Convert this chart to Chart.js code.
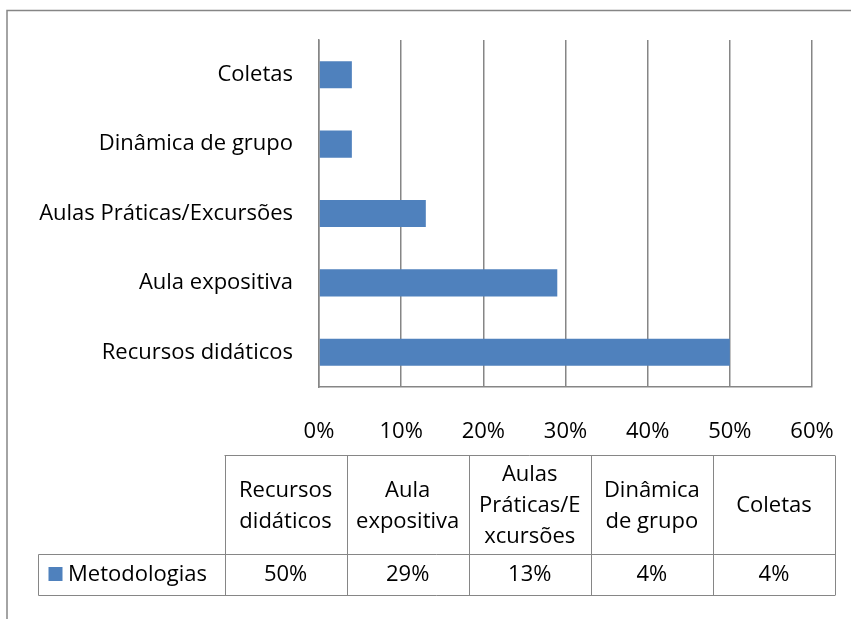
<!DOCTYPE html>
<html>
<head>
<meta charset="utf-8">
<script src="https://cdn.jsdelivr.net/npm/chart.js@4.4.1/dist/chart.umd.min.js"></script>
<style>
  body { margin: 0; background: #fff; }
  canvas { display: block; }
</style>
</head>
<body>
<canvas id="chart" width="851" height="619"></canvas>
<script>
// data
const categories = ['Recursos didáticos', 'Aula expositiva', 'Aulas Práticas/Excursões', 'Dinâmica de grupo', 'Coletas'];
const seriesName = 'Metodologias';
const values = [50, 29, 13, 4, 4];
const xMin = 0, xMax = 60, xStep = 10;

const barColor = '#4F81BD';
const lineColor = '#868686';
const fontFamily = '"Open Sans", sans-serif';
const fontSize = 22;

Chart.defaults.font.family = fontFamily;
Chart.defaults.font.size = fontSize;
Chart.defaults.color = '#000';

// split a label the way the data table wraps it
function wrapText(ctx, text, maxWidth) {
    const words = text.split(' ');
    const lines = [];
    let line = '';
    words.forEach(function (w) {
        const test = line ? line + ' ' + w : w;
        if (ctx.measureText(test).width <= maxWidth) {
            line = test;
            return;
        }
        if (line) lines.push(line);
        line = '';
        let part = '';
        for (const ch of w) {
            if (ctx.measureText(part + ch).width > maxWidth && part) {
                lines.push(part);
                part = ch;
            } else {
                part += ch;
            }
        }
        line = part;
    });
    if (line) lines.push(line);
    return lines;
}

const extras = {
    id: 'extras',
    afterDraw(chart) {
        const ctx = chart.ctx;
        ctx.save();

        // outer frame
        ctx.strokeStyle = lineColor;
        ctx.lineWidth = 1.5;
        ctx.strokeRect(7, 10.5, 900, 700);

        // data table
        const colLeft = 224.5, colW = 122.1;
        const top = 455.5, mid = 554.5, bottom = 595.5, legendLeft = 38.5;
        ctx.lineWidth = 1;
        ctx.strokeStyle = lineColor;
        ctx.beginPath();
        ctx.moveTo(colLeft, top); ctx.lineTo(colLeft + colW * 5, top);
        ctx.moveTo(legendLeft, mid); ctx.lineTo(colLeft + colW * 5, mid);
        ctx.moveTo(legendLeft, bottom); ctx.lineTo(colLeft + colW * 5, bottom);
        ctx.moveTo(legendLeft, mid); ctx.lineTo(legendLeft, bottom);
        for (let i = 0; i <= 5; i++) {
            const x = Math.round(colLeft + colW * i) + 0.5;
            ctx.moveTo(x, top); ctx.lineTo(x, bottom);
        }
        ctx.stroke();

        ctx.font = fontSize + 'px ' + fontFamily;
        ctx.fillStyle = '#000';
        ctx.textAlign = 'center';
        ctx.textBaseline = 'middle';
        const lh = 31;
        categories.forEach(function (c, i) {
            const cx = colLeft + colW * (i + 0.5);
            const lines = wrapText(ctx, c, colW - 10);
            const y0 = (top + mid) / 2 + 1 - (lines.length - 1) * lh / 2;
            lines.forEach(function (l, j) { ctx.fillText(l, cx, y0 + j * lh); });
            ctx.fillText(values[i] + '%', cx, (mid + bottom) / 2);
        });

        // legend key
        ctx.fillStyle = barColor;
        ctx.fillRect(48.5, 567, 14, 14);
        ctx.fillStyle = '#000';
        ctx.textAlign = 'left';
        ctx.fillText(seriesName, 68, (mid + bottom) / 2);

        ctx.restore();
    }
};

new Chart(document.getElementById('chart'), {
    type: 'bar',
    data: {
        labels: categories,
        datasets: [{
            label: seriesName,
            data: values,
            backgroundColor: barColor,
            categoryPercentage: 1,
            barPercentage: 0.39
        }]
    },
    options: {
        indexAxis: 'y',
        responsive: false,
        animation: false,
        layout: { padding: { top: 40, right: 39, bottom: 152, left: 0 } },
        plugins: { legend: { display: false }, tooltip: { enabled: false } },
        scales: {
            x: {
                min: xMin,
                max: xMax,
                ticks: { stepSize: xStep, padding: 2, callback: v => v + '%' },
                grid: { color: lineColor, lineWidth: 1.5, tickLength: 30, tickColor: 'rgba(0,0,0,0)' },
                border: { color: lineColor, width: 1.5 },
                afterFit(scale) { scale.height = 80; }
            },
            y: {
                reverse: true,
                ticks: { padding: 26 },
                grid: { display: false, drawTicks: false },
                border: { color: lineColor, width: 1.5 },
                afterFit(scale) { scale.width = 319; }
            }
        }
    },
    plugins: [extras]
});
</script>
</body>
</html>
